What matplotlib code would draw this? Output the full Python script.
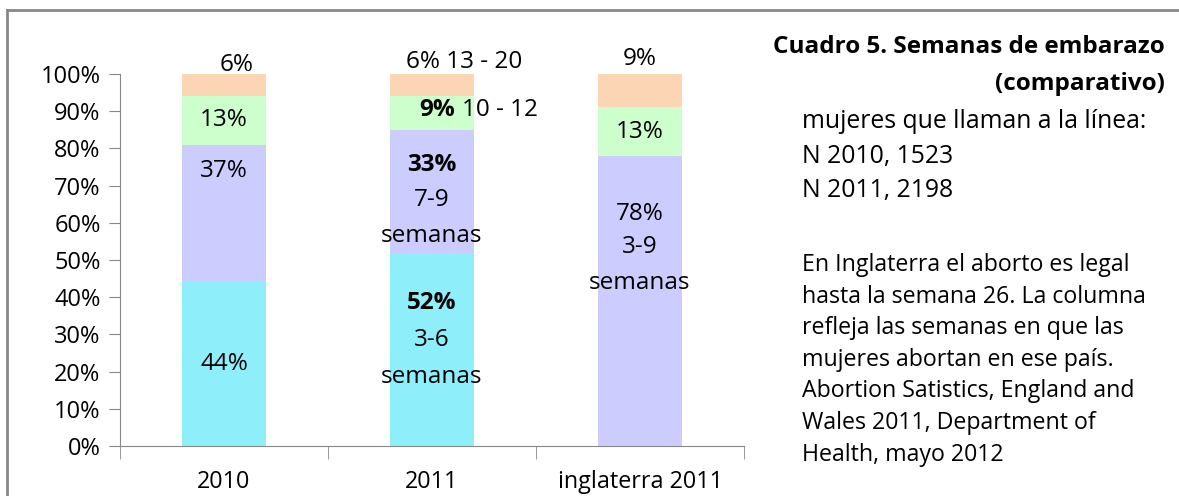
import matplotlib
matplotlib.use("Agg")
from matplotlib import pyplot as plt
from matplotlib.lines import Line2D
import numpy as np

plt.rcParams['font.family'] = ['Open Sans', 'DejaVu Sans']

categories = ['2010', '2011', 'inglaterra 2011']
seg_3_6 = [44, 52, 0]      # 3-6 semanas
seg_7_9 = [37, 33, 78]     # 7-9 semanas (inglaterra: 3-9)
seg_10_12 = [13, 9, 13]
seg_13_20 = [6, 6, 9]
colors = ['#8EEEFA', '#CCCCFF', '#CCFFCC', '#FCD5B4']

yticks = np.arange(0, 101, 10)

title = ['Cuadro 5. Semanas de embarazo', '(comparativo)']
notes1 = ['mujeres que llaman a la línea:', 'N 2010, 1523', 'N 2011, 2198']
notes2 = ['En Inglaterra el aborto es legal', 'hasta la semana 26. La columna',
          'refleja las semanas en que las', 'mujeres abortan en ese país.',
          'Abortion Satistics, England and', 'Wales 2011, Department of',
          'Health, mayo 2012']

W, H = 1179, 496
fig = plt.figure(figsize=(W / 100, H / 100), dpi=100)
ax = fig.add_axes([120 / W, 1 - 446 / H, (744 - 120) / W, (446 - 74) / H])

x = np.arange(len(categories))
series = [seg_3_6, seg_7_9, seg_10_12, seg_13_20]
bottom = np.zeros(len(categories))
for vals, c in zip(series, colors):
    ax.bar(x, vals, width=0.4, bottom=bottom, color=c, edgecolor='none')
    bottom += np.array(vals)

fs = 17.5
ax.set_xlim(-0.5, 2.5)
ax.set_ylim(0, 100)
ax.set_yticks(yticks)
ax.set_yticklabels([f'{v}%' for v in yticks])
ax.set_xticks(x)
ax.set_xticklabels(categories)
ax.set_xticks([-0.5, 0.5, 1.5, 2.5], minor=True)
ax.tick_params(axis='x', which='major', length=0, pad=17, labelsize=16.8)
ax.tick_params(axis='x', which='minor', length=9, color='#888888')
ax.tick_params(axis='y', length=8, color='#888888', labelsize=17, pad=6)
for s in ['top', 'right']:
    ax.spines[s].set_visible(False)
for s in ['left', 'bottom']:
    ax.spines[s].set_color('#888888')

cum = np.cumsum(np.array(series), axis=0)
low = cum - np.array(series)

# 2010
ax.text(0, (low[0][0] + cum[0][0]) / 2, '44%', ha='center', va='center', fontsize=fs)
ax.text(0, cum[1][0] - 7, '37%', ha='center', va='center', fontsize=fs)
ax.text(0, (low[2][0] + cum[2][0]) / 2, '13%', ha='center', va='center', fontsize=fs)
ax.text(0.0625, cum[3][0] + 2.4, '6%', ha='center', va='center', fontsize=fs, clip_on=False)

# 2011
ax.text(1, 38.5, '52%', ha='center', va='center', fontsize=fs, fontweight='bold')
ax.text(1, 28.5, '3-6', ha='center', va='center', fontsize=fs)
ax.text(1, 18.5, 'semanas', ha='center', va='center', fontsize=fs)
ax.text(1, 75.5, '33%', ha='center', va='center', fontsize=fs, fontweight='bold')
ax.text(1, 66, '7-9', ha='center', va='center', fontsize=fs)
ax.text(1, 56.5, 'semanas', ha='center', va='center', fontsize=fs)
ax.text(0.9375, 90.2, '9%', ha='left', va='center', fontsize=fs, fontweight='bold')
ax.text(1.144, 90.2, '10 - 12', ha='left', va='center', fontsize=fs)
ax.text(0.875, 103.2, '6% 13 - 20', ha='left', va='center', fontsize=fs, clip_on=False)

# inglaterra
ax.text(2, 62.5, '78%', ha='center', va='center', fontsize=fs)
ax.text(2, 53.5, '3-9', ha='center', va='center', fontsize=fs)
ax.text(2, 43.8, 'semanas', ha='center', va='center', fontsize=fs)
ax.text(2, (low[2][2] + cum[2][2]) / 2, '13%', ha='center', va='center', fontsize=fs)
ax.text(2, cum[3][2] + 4.0, '9%', ha='center', va='center', fontsize=fs, clip_on=False)

# side text
for i, line in enumerate(title):
    fig.text(1165 / W, 1 - (47 + 37 * i) / H, line, ha='right', va='center',
             fontsize=17.5, fontweight='bold')
for i, line in enumerate(notes1):
    fig.text(802 / W, 1 - (122 + 34 * i) / H, line, ha='left', va='center', fontsize=17.8)
for i, line in enumerate(notes2):
    fig.text(802 / W, 1 - (265 + 31.6 * i) / H, line, ha='left', va='center', fontsize=16.7)

# outer frame
fig.add_artist(Line2D([7 / W, 1], [1 - 10 / H, 1 - 10 / H], color='#888888', lw=2))
fig.add_artist(Line2D([7 / W, 7 / W], [0, 1 - 10 / H], color='#888888', lw=2))

fig.savefig('out.png', dpi=100)
